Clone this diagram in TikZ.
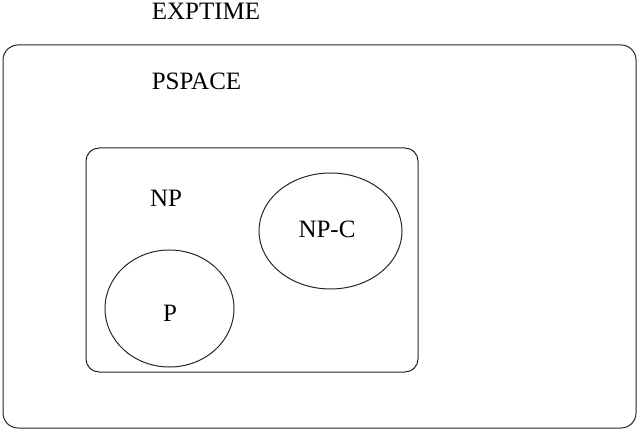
\documentclass[tikz,border=0pt]{standalone}
\usepackage{fontspec}
\setmainfont{Liberation Serif}
\begin{document}
\begin{tikzpicture}[x=1bp,y=-1bp,
  lbl/.style={inner sep=0pt,anchor=base,font=\fontsize{25bp}{30bp}\selectfont},
  box/.style={draw=black!85,line width=1bp},
  blob/.style={draw=black!85,line width=1bp,ellipse}]
\useasboundingbox (0,0) rectangle (638,434);
\draw[box,rounded corners=15bp] (3,45) rectangle (636,428);
\draw[box,rounded corners=13bp] (86,148) rectangle (418,372);
\draw[box] (330.5,231) ellipse [x radius=71.5,y radius=58];
\draw[box] (169.5,308.5) ellipse [x radius=64.5,y radius=58.5];
\node[lbl] (exptime) at (206,20) {EXPTIME};
\node[lbl] (pspace) at (196.5,90) {PSPACE};
\node[lbl] (np) at (166,206.5) {NP};
\node[lbl] (npc) at (327,238) {NP-C};
\node[lbl] (p) at (170,321.5) {P};
\end{tikzpicture}
\end{document}
